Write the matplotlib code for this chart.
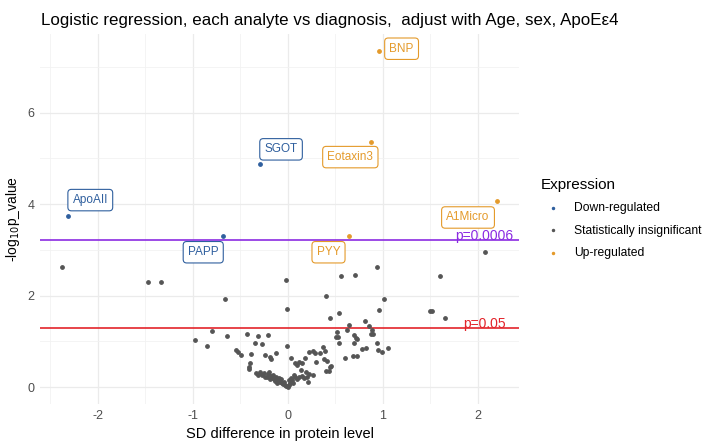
import matplotlib
matplotlib.use("Agg")
import matplotlib.pyplot as plt

plt.rcParams['font.family'] = ['Liberation Sans', 'DejaVu Sans']
plt.rcParams['axes.unicode_minus'] = False

# significant analytes (label, SD difference, -log10 p)
labels = ["BNP", "Eotaxin3", "SGOT", "ApoAII", "PAPP", "PYY", "A1Micro"]
lab_x = [0.96, 0.88, -0.29, -2.32, -0.68, 0.65, 2.21]
lab_y = [7.36, 5.37, 4.88, 3.75, 3.31, 3.31, 4.08]
lab_dir = ["Up", "Up", "Down", "Down", "Down", "Up", "Up"]
# where the label boxes sit
box_x = [1.20, 0.66, -0.07, -2.08, -0.89, 0.43, 1.90]
box_y = [7.40, 5.03, 5.20, 4.09, 2.95, 2.95, 3.71]

# statistically insignificant analytes
ns_x = [-2.38, -1.47, -1.34, -0.66, -0.02, -0.01, 0.40, 0.45, 0.54, 0.56, 0.71, 0.94,
        1.01, 0.96, 2.08, 1.60, 1.50, 1.52, 1.66, 1.06,
        -0.98, -0.85, -0.80, -0.64, -0.43, -0.31, -0.21, -0.34, -0.27, -0.12, -0.01,
        -0.54, -0.52, -0.49, -0.39, -0.24, -0.19, -0.18, -0.40, -0.41, -0.41, -0.29,
        -0.27, -0.31, -0.21, -0.25, -0.22, -0.18, -0.16, -0.14, -0.12, -0.10, -0.08,
        -0.06, -0.05, -0.03, -0.02, -0.19, -0.15, -0.11, -0.09, -0.07, -0.04, -0.13,
        -0.24, -0.20, -0.33,
        0.00, 0.01, 0.02, 0.03, 0.01, 0.05, 0.07, 0.08, 0.04, 0.06, 0.10, 0.12, 0.14,
        0.15, 0.17, 0.19, 0.20, 0.21, 0.22, 0.27, 0.03, 0.08, 0.10, 0.12, 0.15, 0.18,
        0.22, 0.27, 0.29, 0.30, 0.34, 0.37, 0.39, 0.38, 0.41, 0.40, 0.43, 0.45, 0.46,
        0.52, 0.51, 0.53, 0.54, 0.60, 0.63, 0.65, 0.70, 0.72, 0.73, 0.70, 0.69, 0.73,
        0.78, 0.83, 0.81, 0.86, 0.89, 0.90, 0.88, 0.94, 0.95, 0.99]
ns_y = [2.63, 2.29, 2.30, 1.93, 2.34, 1.70, 2.00, 1.52, 1.63, 2.44, 2.45, 2.62,
        1.93, 1.68, 2.95, 2.42, 1.67, 1.67, 1.52, 0.86,
        1.03, 0.90, 1.23, 1.12, 1.17, 1.12, 1.14, 0.97, 0.94, 0.75, 0.89,
        0.81, 0.77, 0.70, 0.72, 0.70, 0.67, 0.62, 0.52, 0.39, 0.43, 0.34,
        0.26, 0.26, 0.28, 0.30, 0.22, 0.25, 0.20, 0.18, 0.22, 0.15, 0.12,
        0.10, 0.06, 0.04, 0.02, 0.18, 0.26, 0.10, 0.20, 0.17, 0.12, 0.13,
        0.22, 0.33, 0.30,
        0.01, 0.05, 0.08, 0.12, 0.15, 0.15, 0.26, 0.23, 0.20, 0.10, 0.18, 0.22, 0.37,
        0.25, 0.20, 0.34, 0.23, 0.12, 0.28, 0.26, 0.63, 0.52, 0.48, 0.55, 0.53, 0.63,
        0.77, 0.79, 0.75, 0.56, 0.74, 0.88, 0.79, 0.61, 0.58, 0.35, 0.35, 0.44, 0.46,
        1.20, 1.10, 1.10, 0.96, 0.63, 1.26, 1.35, 1.14, 1.08, 1.06, 0.96, 0.69, 0.68,
        0.83, 0.85, 1.44, 1.33, 1.25, 1.17, 1.16, 0.96, 0.81, 0.77]

p_strict = 3.22   # -log10(0.0006)
p_nominal = 1.30  # -log10(0.05)

blue = "#2F5F9E"
orange = "#E49A2A"
grey = "#555555"

fig = plt.figure(figsize=(7.09, 4.46), dpi=100)
ax = fig.add_axes([0.0564, 0.094, 0.676, 0.8306])

ax.set_xlim(-2.61, 2.44)
ax.set_ylim(-0.37, 7.73)
ax.set_xticks([-2, -1, 0, 1, 2])
ax.set_yticks([0, 2, 4, 6])
ax.set_xticks([-2.5, -1.5, -0.5, 0.5, 1.5], minor=True)
ax.set_yticks([1, 3, 5, 7], minor=True)
ax.grid(which="major", color="#EBEBEB", linewidth=0.9)
ax.grid(which="minor", color="#F2F2F2", linewidth=0.6)
ax.set_axisbelow(True)
for s in ax.spines.values():
    s.set_visible(False)
ax.tick_params(which="both", length=0, labelsize=9, labelcolor="#4D4D4D", pad=4)

ax.axhline(p_strict, color="#8B2BE2", linewidth=1.2, zorder=2)
ax.axhline(p_nominal, color="#E3242B", linewidth=1.2, zorder=2)
ax.text(2.38, p_strict, "p=0.0006", color="#8B2BE2", fontsize=10, ha="right", va="baseline")
ax.text(2.30, p_nominal, "p=0.05", color="#E3242B", fontsize=10, ha="right", va="baseline")

down_x = [x for x, d in zip(lab_x, lab_dir) if d == "Down"]
down_y = [y for y, d in zip(lab_y, lab_dir) if d == "Down"]
up_x = [x for x, d in zip(lab_x, lab_dir) if d == "Up"]
up_y = [y for y, d in zip(lab_y, lab_dir) if d == "Up"]

ax.scatter(down_x, down_y, s=6, color=blue, label="Down-regulated", zorder=3)
ax.scatter(ns_x, ns_y, s=6, color=grey, label="Statistically insignificant", zorder=3)
ax.scatter(up_x, up_y, s=6, color=orange, label="Up-regulated", zorder=3)

for name, bx, by, d in zip(labels, box_x, box_y, lab_dir):
    c = blue if d == "Down" else orange
    ax.text(bx, by, name, color=c, fontsize=8.5, ha="center", va="center", zorder=4,
            bbox=dict(boxstyle="round,pad=0.4,rounding_size=0.3", fc="white", ec=c, lw=0.8))

ax.set_xlabel("SD difference in protein level", fontsize=10.5, labelpad=4)
ax.set_ylabel("-log$_{10}$p_value", fontsize=10, labelpad=4)
fig.text(0.058, 0.955, "Logistic regression, each analyte vs diagnosis,  adjust with Age, sex, ApoEε4",
         fontsize=12.2, ha="left", va="center")

leg = fig.legend(loc="upper left", bbox_to_anchor=(0.748, 0.625), frameon=False,
                 title="Expression", fontsize=8.7, title_fontsize=11, markerscale=0.6,
                 handletextpad=0.7, labelspacing=0.85, alignment="left")

fig.savefig("out.png", dpi=100)
